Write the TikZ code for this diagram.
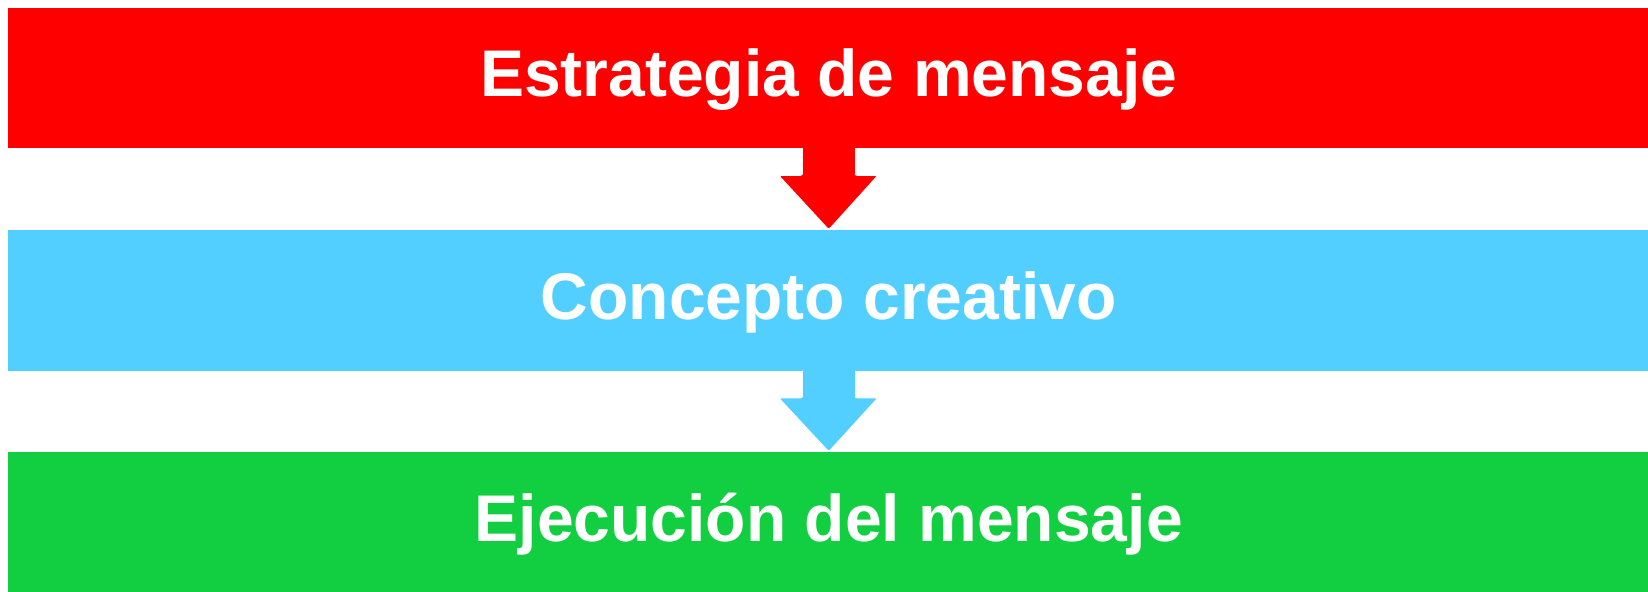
\documentclass[tikz,border=0pt]{standalone}
\usepackage{fontspec}
\setmainfont{Liberation Sans}
\usetikzlibrary{calc}
\definecolor{cred}{RGB}{255,0,0}
\definecolor{cblue}{RGB}{82,206,255}
\definecolor{cgreen}{RGB}{17,207,64}
\tikzset{
  band/.style={fill=#1, draw=none, minimum width=821.25pt, minimum height=70.25pt,
    inner sep=0pt, text height=19pt, text depth=0pt, text=white,
    font=\fontsize{33}{38}\selectfont\bfseries},
  downarrow/.style={fill=#1, draw=white, line width=0.4pt, rounded corners=1.2pt}
}
\begin{document}
\begin{tikzpicture}[x=0.5pt,y=-0.5pt]
\useasboundingbox (0,0) rectangle (1648,591);
\node[band=cred]   (s1) at (828.75,77.75)  {Estrategia de mensaje};
\node[band=cblue]  (s2) at (828.75,300.25) {Concepto creativo};
\node[band=cgreen] (s3) at (828.75,522.25) {Ejecución del mensaje};
% arrows
\foreach \a/\b/\c in {s1/s2/cred, s2/s3/cblue}{
  \fill[\c] ($(\a.south)+(-26,-4)$) -- ($(\a.south)+(-26,27)$) -- ($(\a.south)+(26,27)$) -- ($(\a.south)+(26,-4)$) -- cycle;
  \draw[downarrow=\c] ($(\a.south)+(-26,-0.5)$) -- ($(\a.south)+(-26,27)$) -- ($(\a.south)+(-50,27)$)
     -- (\b.north) -- ($(\a.south)+(49,27)$) -- ($(\a.south)+(26,27)$) -- ($(\a.south)+(26,-0.5)$);
  \fill[\c] ($(\a.south)+(-25.8,-3)$) rectangle ($(\a.south)+(25.8,26)$);
}
\end{tikzpicture}
\end{document}
